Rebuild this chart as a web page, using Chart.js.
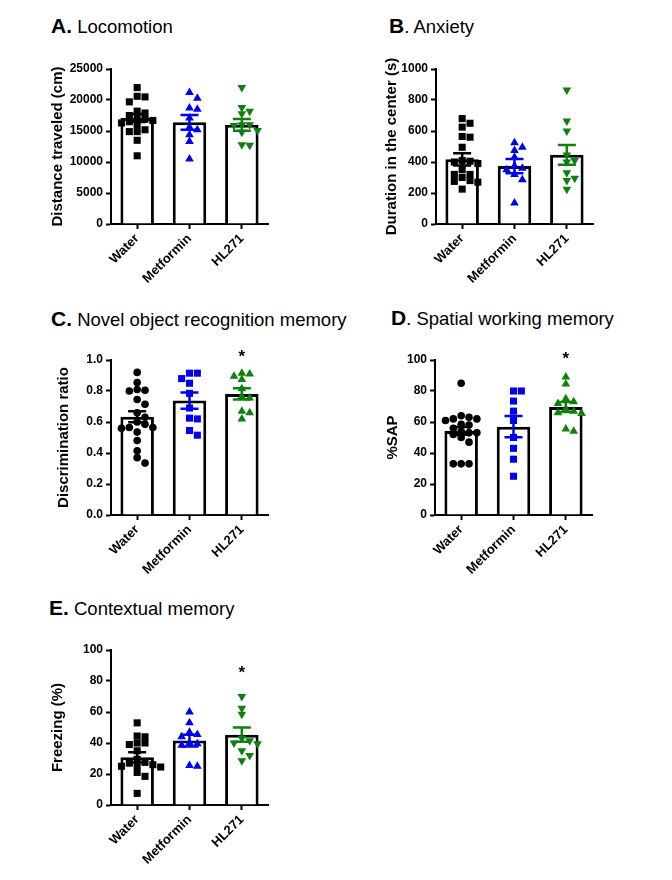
<!DOCTYPE html>
<html>
<head>
<meta charset="utf-8">
<script src="https://cdn.jsdelivr.net/npm/chart.js@4.4.1/dist/chart.umd.min.js"></script>
<style>
html, body { margin: 0; padding: 0; background: #fff; overflow: hidden; }
body { width: 672px; height: 880px; position: relative; font-family: "Liberation Sans", Arial, sans-serif; }
.ttl { position: absolute; font-size: 18.5px; line-height: 24px; color: #000; white-space: nowrap; }
.ttl b { font-size: 21px; }
.box { position: absolute; width: 250px; height: 250px; }
</style>
</head>
<body>
<div class="ttl" style="left:51px;top:14px"><b>A.</b> Locomotion</div>
<div class="ttl" style="left:389px;top:14px"><b>B</b>. Anxiety</div>
<div class="ttl" style="left:51px;top:307px"><b>C.</b> Novel object recognition memory</div>
<div class="ttl" style="left:391px;top:306px"><b>D</b>. Spatial working memory</div>
<div class="ttl" style="left:49px;top:596px"><b>E.</b> Contextual memory</div>

<div class="box" style="left:36px;top:44px"><canvas id="chartA" width="250" height="250"></canvas></div>
<div class="box" style="left:361px;top:44px"><canvas id="chartB" width="250" height="250"></canvas></div>
<div class="box" style="left:36px;top:335px"><canvas id="chartC" width="250" height="250"></canvas></div>
<div class="box" style="left:360px;top:335px"><canvas id="chartD" width="250" height="250"></canvas></div>
<div class="box" style="left:36px;top:625px"><canvas id="chartE" width="250" height="250"></canvas></div>

<script>
const groups = ['Water', 'Metformin', 'HL271'];
const colors = ['#000000', '#0000f0', '#0d800d'];

// A. Locomotion - distance traveled (cm)
const locoWater = [22000, 20600, 20500, 19700, 18200, 17900, 17500, 17200, 16900, 16700, 16500, 16300, 16000, 15200, 14900, 14900, 13500, 11000];
const locoMetformin = [21200, 20300, 18700, 18500, 17100, 15600, 15200, 14400, 13300, 10500];
const locoHL271 = [22000, 18800, 18200, 17800, 16000, 16000, 15900, 15100, 14800, 12800, 12700];
const locoMean = [17100, 16400, 16000];
const locoSem = [650, 1200, 950];

// B. Anxiety - duration in the center (s)
const anxWater = [680, 650, 625, 565, 560, 495, 410, 405, 400, 390, 350, 320, 320, 300, 280, 275, 270, 225];
const anxMetformin = [525, 495, 475, 430, 375, 360, 350, 320, 285, 135];
const anxHL271 = [865, 665, 600, 445, 410, 400, 330, 295, 280, 225];
const anxMean = [417, 374, 446];
const anxSem = [40, 46, 64];

// C. Novel object recognition - discrimination ratio
const norWater = [0.92, 0.855, 0.81, 0.805, 0.80, 0.745, 0.715, 0.66, 0.63, 0.60, 0.585, 0.565, 0.565, 0.56, 0.535, 0.48, 0.415, 0.37, 0.335];
const norMetformin = [0.915, 0.915, 0.88, 0.85, 0.785, 0.69, 0.625, 0.62, 0.545, 0.515];
const norHL271 = [0.915, 0.91, 0.895, 0.875, 0.815, 0.765, 0.755, 0.67, 0.66, 0.62];
const norMean = [0.634, 0.738, 0.781];
const norSem = [0.036, 0.052, 0.036];

// D. Spatial working memory - %SAP
const sapWater = [85, 64, 63, 62, 62, 61, 58.5, 58, 56, 54, 53, 53, 52, 50, 47, 33, 33, 33];
const sapMetformin = [80, 80, 73.5, 67, 61, 50, 43, 36, 25];
const sapHL271 = [89, 84.5, 75, 73, 72, 68.5, 67, 66, 65.5, 55.5, 54];
const sapMean = [54.2, 57.0, 69.7];
const sapSem = [2.5, 6.8, 3.2];

// E. Contextual memory - freezing (%)
const frzWater = [53, 44.5, 44, 40, 40, 39, 35, 29.5, 27.5, 27, 26, 25.5, 25, 24.5, 21, 18.5, 7.5];
const frzMetformin = [60, 53, 47, 45.5, 44, 40, 39.5, 38.5, 25.5, 25];
const frzHL271 = [70, 62.5, 58.5, 43, 41.5, 40, 39.5, 35, 32, 28.5];
const frzMean = [30.8, 41.6, 45.4];
const frzSem = [3.3, 3.8, 4.6];

// significance stars: [group index, y value]
const norStar = [2, 1.043];
const sapStar = [2, 102.6];
const frzStar = [2, 87.7];

Chart.defaults.font.family = '"Liberation Sans", Arial, sans-serif';
Chart.defaults.color = '#000';

// spread points sideways like a column scatter plot
function swarm(values, g, yMax) {
  const thr = yMax * 0.04, step = 0.15;
  const placed = [];
  values.slice().sort((a, b) => b - a).forEach(v => {
    for (let k = 0; k < 30; k++) {
      const off = (k % 2 ? 1 : -1) * Math.ceil(k / 2) * step;
      const hit = placed.some(p => Math.abs(p.x - off) < step * 0.9 && Math.abs(p.y - v) < thr);
      if (!hit) { placed.push({x: off, y: v}); break; }
    }
  });
  return placed.map(p => ({x: g + p.x, y: p.y}));
}

const errorBars = {
  id: 'errorBars',
  afterDatasetsDraw(chart, args, opts) {
    const {ctx, scales: {x, y}} = chart;
    ctx.save();
    ctx.lineWidth = 2.5;
    opts.mean.forEach((m, i) => {
      const cx = x.getPixelForValue(i);
      const top = y.getPixelForValue(m + opts.sem[i]);
      const bot = y.getPixelForValue(m - opts.sem[i]);
      ctx.strokeStyle = colors[i];
      ctx.beginPath();
      ctx.moveTo(cx, top); ctx.lineTo(cx, bot);
      ctx.moveTo(cx - 9, top); ctx.lineTo(cx + 9, top);
      ctx.moveTo(cx - 9, bot); ctx.lineTo(cx + 9, bot);
      ctx.stroke();
    });
    if (opts.star) {
      ctx.fillStyle = '#000';
      ctx.font = 'bold 17px "Liberation Sans", Arial, sans-serif';
      ctx.textAlign = 'center';
      ctx.textBaseline = 'alphabetic';
      const mt = ctx.measureText('*');
      const sx = x.getPixelForValue(opts.star[0]);
      const sy = y.getPixelForValue(opts.star[1]);
      ctx.fillText('*', sx, sy + (mt.actualBoundingBoxAscent - mt.actualBoundingBoxDescent) / 2);
    }
    ctx.restore();
  }
};

function panel(id, cfg) {
  const scatterSets = cfg.points.map((vals, g) => ({
    type: 'scatter',
    order: 0,
    data: swarm(vals, g, cfg.max),
    pointStyle: cfg.shapes[g],
    rotation: cfg.rot[g],
    pointRadius: cfg.shapes[g] === 'circle' ? 3.8 : 5,
    backgroundColor: colors[g],
    borderColor: colors[g],
    borderWidth: 0
  }));
  new Chart(document.getElementById(id), {
    type: 'scatter',
    data: {
      datasets: [
        ...scatterSets,
        {
          type: 'bar',
          order: 1,
          data: cfg.mean.map((m, i) => ({x: i, y: m})),
          backgroundColor: '#fff',
          borderColor: '#000',
          borderWidth: 3,
          grouped: false,
          barPercentage: 0.64,
          categoryPercentage: 1
        }
      ]
    },
    plugins: [errorBars],
    options: {
      responsive: false,
      animation: false,
      events: [],
      layout: { padding: { top: 25, left: 0, right: 18, bottom: 0 } },
      plugins: {
        legend: { display: false },
        tooltip: { enabled: false },
        errorBars: { mean: cfg.mean, sem: cfg.sem, star: cfg.star }
      },
      scales: {
        x: {
          type: 'linear',
          min: -0.5,
          max: 2.5,
          offset: false,
          afterBuildTicks: s => { s.ticks = groups.map((g, i) => ({value: i})); },
          afterFit: s => { s.height = 70; },
          grid: { offset: false, drawOnChartArea: false, tickLength: 5, tickWidth: 2, color: '#000' },
          border: { display: true, color: '#000', width: 2 },
          ticks: { color: '#000', font: { size: 13, weight: 'bold' }, minRotation: 45, maxRotation: 45, autoSkip: false, padding: 2, callback: v => groups[v] }
        },
        y: {
          type: 'linear',
          min: 0,
          max: cfg.max,
          afterFit: s => { s.width = 75; },
          grid: { drawOnChartArea: false, tickLength: 5, tickWidth: 2, color: '#000' },
          border: { display: true, color: '#000', width: 2 },
          ticks: { color: '#000', font: { size: 12, weight: 'bold' }, padding: 3, stepSize: cfg.step, callback: cfg.fmt || (v => v) },
          title: { display: true, text: cfg.title, color: '#000', font: { size: 15, weight: 'bold' }, padding: { top: cfg.titlePad, bottom: 0 } }
        }
      }
    }
  });
}

panel('chartA', {
  points: [locoWater, locoMetformin, locoHL271], mean: locoMean, sem: locoSem,
  shapes: ['rect', 'triangle', 'triangle'], rot: [0, 0, 180],
  max: 25000, step: 5000, title: 'Distance traveled (cm)', titlePad: 13
});
panel('chartB', {
  points: [anxWater, anxMetformin, anxHL271], mean: anxMean, sem: anxSem,
  shapes: ['rect', 'triangle', 'triangle'], rot: [0, 0, 180],
  max: 1000, step: 200, title: 'Duration in the center (s)', titlePad: 22
});
panel('chartC', {
  points: [norWater, norMetformin, norHL271], mean: norMean, sem: norSem,
  shapes: ['circle', 'rect', 'triangle'], rot: [0, 0, 0],
  max: 1.0, step: 0.2, fmt: v => v.toFixed(1), title: 'Discrimination ratio', titlePad: 19, star: norStar
});
panel('chartD', {
  points: [sapWater, sapMetformin, sapHL271], mean: sapMean, sem: sapSem,
  shapes: ['circle', 'rect', 'triangle'], rot: [0, 0, 0],
  max: 100, step: 20, title: '%SAP', titlePad: 24, star: sapStar
});
panel('chartE', {
  points: [frzWater, frzMetformin, frzHL271], mean: frzMean, sem: frzSem,
  shapes: ['rect', 'triangle', 'triangle'], rot: [0, 0, 180],
  max: 100, step: 20, title: 'Freezing (%)', titlePad: 13, star: frzStar
});
</script>
</body>
</html>
